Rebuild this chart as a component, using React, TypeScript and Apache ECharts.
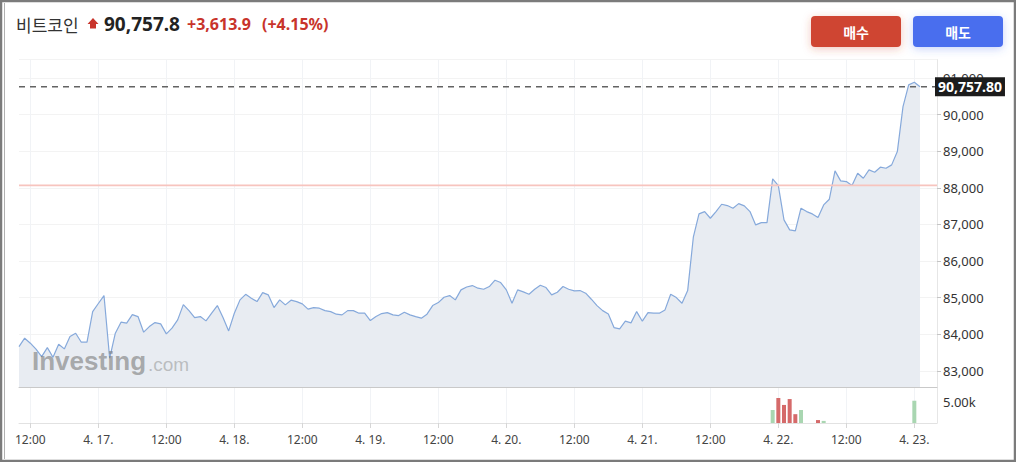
import React, { useEffect, useRef } from "react";
import * as echarts from "echarts";

// ---------- data ----------
const START_UTC = Date.UTC(2025, 3, 16, 10); // 4.16 10:00, hourly
const HOUR_COUNT = 163;
const pad = (n: number) => String(n).padStart(2, "0");
const hours: string[] = Array.from({ length: HOUR_COUNT }, (_, i) => {
  const d = new Date(START_UTC + i * 3600000);
  return `${pad(d.getUTCMonth() + 1)}-${pad(d.getUTCDate())} ${pad(d.getUTCHours())}:00`;
});

const prices: number[] = [
  83663, 83893, 83756, 83592, 83390, 83636, 83374, 83729, 83600, 83937,
  84029, 83783, 83783, 84620, 84840, 85057, 83347, 84029, 84330, 84302,
  84537, 84483, 84057, 84210, 84320, 84283, 84010, 84166, 84393, 84810,
  84646, 84455, 84483, 84365, 84575, 84783, 84455, 84092, 84575, 84939,
  85090, 84985, 84892, 85138, 85075, 84728, 84939, 84802, 84930, 84892,
  84829, 84685, 84728, 84712, 84646, 84619, 84548, 84529, 84646, 84646,
  84575, 84575, 84373, 84483, 84565, 84592, 84529, 84510, 84603, 84529,
  84483, 84439, 84548, 84783, 84865, 85012, 85057, 84939, 85212, 85290,
  85330, 85258, 85230, 85303, 85476, 85412, 85212, 84848, 85212, 85157,
  85094, 85230, 85340, 85275, 85075, 85148, 85303, 85230, 85184, 85193,
  85121, 84957, 84783, 84646, 84556, 84183, 84147, 84357, 84311, 84619,
  84357, 84592, 84575, 84575, 84665, 85094, 85001, 84848, 85193, 86650,
  87287, 87350, 87168, 87350, 87550, 87514, 87442, 87568, 87505, 87350,
  86986, 87049, 87049, 88242, 88060, 87123, 86850, 86823, 87442, 87350,
  87287, 87186, 87532, 87688, 88461, 88188, 88170, 88060, 88398, 88261,
  88488, 88425, 88562, 88534, 88625, 88988, 90217, 90809, 90883, 90757.8,
];

const volumeTimes: string[] = [
  "04-21 23:00", "04-22 00:00", "04-22 01:00", "04-22 02:00", "04-22 03:00",
  "04-22 04:00", "04-22 07:00", "04-22 08:00", "04-23 00:00",
];
const volumeValues: number[] = [3100, 5950, 4300, 5700, 2100, 3100, 700, 500, 5300];

const lastPrice = 90757.8;
const changeAbs = "+3,613.9";
const changePct = "(+4.15%)";
const refPrice = 88065;

const priceMin = 82560;
const priceMax = 91500;
const volumeMax = 8570;

const FONT = "'Noto Sans', 'Noto Sans CJK KR', sans-serif";

export default function App() {
  const ref = useRef<HTMLDivElement>(null);

  useEffect(() => {
    if (!ref.current) return;
    const chart = echarts.init(ref.current, undefined, { renderer: "svg" });

    const volData = hours.map((h) => {
      const k = volumeTimes.indexOf(h);
      if (k < 0) return null;
      const idx = hours.indexOf(h);
      const up = idx > 0 ? prices[idx] >= prices[idx - 1] : true;
      return {
        value: volumeValues[k],
        itemStyle: { color: up ? "#a9d6b1" : "#d56a6a" },
      };
    });

    // horizontal reference levels across the whole time range
    const refLevel = hours.map(() => refPrice);
    const lastLevel = hours.map(() => lastPrice);

    const isTick = (_i: number, v: string) => v.endsWith(" 00:00") || v.endsWith(" 12:00");
    const fmtX = (v: string) => {
      if (v.endsWith("12:00")) return "12:00";
      const m = Number(v.slice(0, 2));
      const d = Number(v.slice(3, 5));
      return `${m}. ${d}.`;
    };

    const option: any = {
      animation: false,
      backgroundColor: "#ffffff",
      textStyle: { fontFamily: FONT },
      grid: [
        { left: 19, right: 79, top: 59.6, height: 327.4 },
        { left: 19, right: 79, top: 387, height: 36 },
      ],
      xAxis: [
        {
          type: "category",
          gridIndex: 0,
          data: hours,
          boundaryGap: false,
          axisLine: { show: true, lineStyle: { color: "#c9c9c9", width: 1 } },
          axisTick: { show: false },
          axisLabel: { show: false },
          splitLine: { show: true, interval: isTick, lineStyle: { color: "#f1f3f6", width: 1 } },
        },
        {
          type: "category",
          gridIndex: 1,
          data: hours,
          boundaryGap: false,
          axisLine: { show: true, lineStyle: { color: "#e2e2e2", width: 1 } },
          axisTick: { show: true, interval: isTick, length: 5, lineStyle: { color: "#d6d6d6" } },
          axisLabel: {
            show: true,
            interval: isTick,
            formatter: fmtX,
            color: "#444",
            fontSize: 12,
            fontFamily: FONT,
            margin: 10,
          },
          splitLine: { show: true, interval: isTick, lineStyle: { color: "#f1f3f6", width: 1 } },
        },
      ],
      yAxis: [
        {
          type: "value",
          gridIndex: 0,
          position: "right",
          min: priceMin,
          max: priceMax,
          splitNumber: 9,
          minInterval: 1000,
          maxInterval: 1000,
          axisLine: { show: true, lineStyle: { color: "#e6e6e6" } },
          axisTick: { show: true, length: 4, lineStyle: { color: "#c4c4c4" } },
          axisLabel: {
            show: true,
            showMinLabel: false,
            showMaxLabel: false,
            color: "#333",
            fontSize: 13,
            fontFamily: FONT,
            margin: 6,
            formatter: (v: number) => v.toLocaleString("en-US"),
          },
          splitLine: { show: true, lineStyle: { color: "#f3f3f3", width: 1 } },
        },
        {
          type: "value",
          gridIndex: 1,
          position: "right",
          min: 0,
          max: volumeMax,
          minInterval: 5000,
          maxInterval: 5000,
          axisLine: { show: true, lineStyle: { color: "#e6e6e6" } },
          axisTick: { show: false },
          axisLabel: {
            show: true,
            showMinLabel: false,
            showMaxLabel: false,
            color: "#333",
            fontSize: 13,
            fontFamily: FONT,
            margin: 6,
            formatter: (v: number) => (v === 5000 ? (v / 1000).toFixed(2) + "k" : ""),
          },
          splitLine: { show: false },
        },
      ],
      series: [
        {
          name: "price",
          type: "line",
          xAxisIndex: 0,
          yAxisIndex: 0,
          data: prices,
          symbol: "none",
          silent: true,
          lineStyle: { color: "#86a9db", width: 1.2 },
          itemStyle: { color: "#86a9db" },
          areaStyle: { color: "#e8ecf2", opacity: 1 },
          z: 2,
        },
        {
          name: "ref",
          type: "line",
          xAxisIndex: 0,
          yAxisIndex: 0,
          data: refLevel,
          symbol: "none",
          silent: true,
          lineStyle: { color: "#f7c4be", width: 1.6, type: "solid", opacity: 1 },
          itemStyle: { color: "#f7c4be" },
          z: 3,
        },
        {
          name: "last",
          type: "line",
          xAxisIndex: 0,
          yAxisIndex: 0,
          data: lastLevel,
          symbol: "none",
          silent: true,
          lineStyle: { color: "#636363", width: 1.4, type: [6, 5] },
          itemStyle: { color: "#636363" },
          z: 4,
          endLabel: {
            show: true,
            distance: -2,
            formatter: () => lastPrice.toLocaleString("en-US", { minimumFractionDigits: 2 }),
            backgroundColor: "#1c1c1c",
            color: "#ffffff",
            fontSize: 14,
            fontWeight: "bold",
            fontFamily: FONT,
            padding: [3, 3, 2, 3],
          },
        },
        {
          name: "volume",
          type: "bar",
          xAxisIndex: 1,
          yAxisIndex: 1,
          data: volData,
          barWidth: 4,
          silent: true,
        },
      ],
      graphic: [
        // frame
        {
          type: "rect",
          z: 100,
          silent: true,
          shape: { x: 1, y: 1, width: 1014, height: 460 },
          style: { fill: "none", stroke: "#7b7b7b", lineWidth: 2.5 },
        },
        {
          type: "line",
          z: 100,
          silent: true,
          shape: { x1: 4.5, y1: 3, x2: 4.5, y2: 459 },
          style: { stroke: "#b0b0b0", lineWidth: 1 },
        },
        // header
        {
          type: "text",
          x: 16,
          y: 24,
          style: {
            text: "비트코인",
            fill: "#333333",
            fontSize: 17,
            fontFamily: "'Noto Sans CJK KR', sans-serif",
            verticalAlign: "middle",
          },
        },
        {
          type: "polygon",
          shape: {
            points: [
              [93, 18],
              [98.5, 24],
              [96, 24],
              [96, 28.5],
              [90, 28.5],
              [90, 24],
              [87.5, 24],
            ],
          },
          style: { fill: "#c8342b" },
        },
        {
          type: "text",
          x: 104,
          y: 24,
          style: {
            text: lastPrice.toLocaleString("en-US", { minimumFractionDigits: 1 }),
            fill: "#222222",
            fontSize: 19,
            fontWeight: "bold",
            fontFamily: FONT,
            verticalAlign: "middle",
          },
        },
        {
          type: "text",
          x: 187,
          y: 24,
          style: {
            text: changeAbs,
            fill: "#c8342b",
            fontSize: 16,
            fontWeight: "bold",
            fontFamily: FONT,
            verticalAlign: "middle",
          },
        },
        {
          type: "text",
          x: 262,
          y: 24,
          style: {
            text: changePct,
            fill: "#c8342b",
            fontSize: 16,
            fontWeight: "bold",
            fontFamily: FONT,
            verticalAlign: "middle",
          },
        },
        // buttons
        {
          type: "rect",
          shape: { x: 811, y: 16, width: 90, height: 31, r: 4 },
          style: {
            fill: "#cf4533",
            shadowBlur: 8,
            shadowOffsetY: 2,
            shadowColor: "rgba(207,69,51,0.3)",
          },
        },
        {
          type: "text",
          x: 856,
          y: 32,
          style: {
            text: "매수",
            fill: "#ffffff",
            fontSize: 14,
            fontWeight: "bold",
            fontFamily: "'Noto Sans CJK KR', sans-serif",
            align: "center",
            verticalAlign: "middle",
          },
        },
        {
          type: "rect",
          shape: { x: 913, y: 16, width: 90, height: 31, r: 4 },
          style: {
            fill: "#496eee",
            shadowBlur: 8,
            shadowOffsetY: 2,
            shadowColor: "rgba(73,110,238,0.3)",
          },
        },
        {
          type: "text",
          x: 958,
          y: 32,
          style: {
            text: "매도",
            fill: "#ffffff",
            fontSize: 14,
            fontWeight: "bold",
            fontFamily: "'Noto Sans CJK KR', sans-serif",
            align: "center",
            verticalAlign: "middle",
          },
        },
        // watermark
        {
          type: "text",
          x: 32,
          y: 361,
          z: 10,
          silent: true,
          style: {
            text: "Investing",
            fill: "rgba(110,110,110,0.55)",
            fontSize: 26,
            fontWeight: "bold",
            fontFamily: "'Liberation Sans', Arial, sans-serif",
            verticalAlign: "middle",
          },
        },
        {
          type: "text",
          x: 148,
          y: 364,
          z: 10,
          silent: true,
          style: {
            text: ".com",
            fill: "rgba(140,140,140,0.5)",
            fontSize: 19,
            fontFamily: "'Liberation Sans', Arial, sans-serif",
            verticalAlign: "middle",
          },
        },
      ],
    };

    chart.setOption(option);
    return () => chart.dispose();
  }, []);

  return (
    <div
      ref={ref}
      style={{ position: "absolute", left: 0, top: 0, width: 1016, height: 462 }}
    />
  );
}
